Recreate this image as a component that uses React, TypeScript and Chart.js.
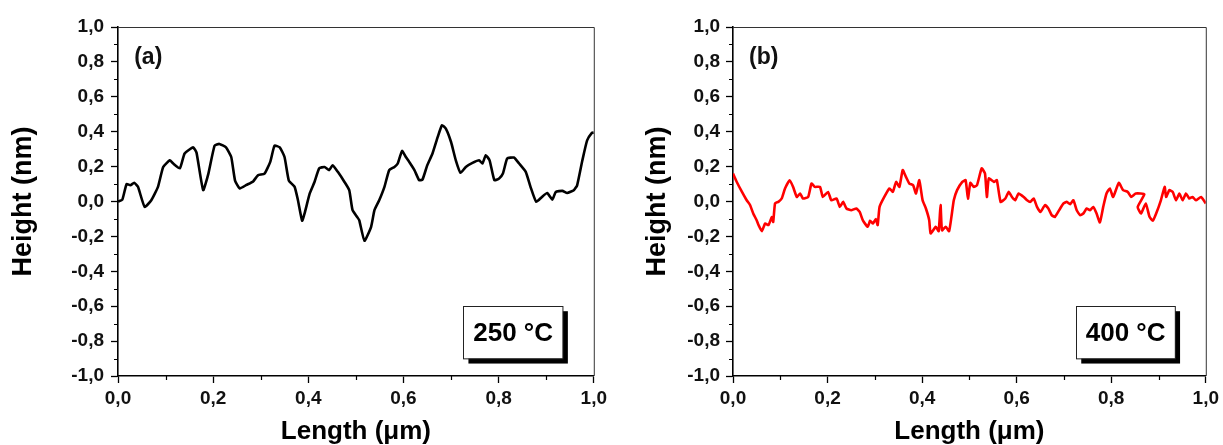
import React, { useEffect, useRef } from 'react';
import { Chart, registerables } from 'chart.js';

Chart.register(...registerables);

// ---------- data ----------
const xTickValues = [0, 0.2, 0.4, 0.6, 0.8, 1.0];
const xMinorValues = [0.1, 0.3, 0.5, 0.7, 0.9];
const yTickValues = [-1.0, -0.8, -0.6, -0.4, -0.2, 0, 0.2, 0.4, 0.6, 0.8, 1.0];
const yMinorValues = [-0.9, -0.7, -0.5, -0.3, -0.1, 0.1, 0.3, 0.5, 0.7, 0.9];

const xTitle = 'Length (μm)';
const yTitle = 'Height (nm)';
const panelLabels = ['(a)', '(b)'];
const tempLabels = ['250 °C', '400 °C'];

const lengthA = [
  0, 0.009, 0.018, 0.026, 0.034, 0.042, 0.056, 0.07, 0.084, 0.095, 0.109, 0.115, 0.13, 0.14,
  0.158, 0.165, 0.179, 0.19, 0.203, 0.213, 0.227, 0.238, 0.246, 0.256, 0.27, 0.284, 0.294,
  0.308, 0.32, 0.329, 0.34, 0.35, 0.359, 0.371, 0.378, 0.387, 0.392, 0.403, 0.413, 0.423,
  0.434, 0.444, 0.451, 0.462, 0.476, 0.486, 0.493, 0.503, 0.507, 0.518, 0.532, 0.539, 0.549,
  0.56, 0.57, 0.581, 0.588, 0.597, 0.605, 0.612, 0.623, 0.633, 0.64, 0.65, 0.661, 0.672,
  0.681, 0.689, 0.7, 0.71, 0.72, 0.731, 0.745, 0.759, 0.766, 0.773, 0.781, 0.791, 0.801,
  0.809, 0.818, 0.832, 0.843, 0.857, 0.867, 0.879, 0.891, 0.902, 0.913, 0.92, 0.934, 0.944,
  0.958, 0.965, 0.976, 0.986, 0.996, 1.0,
];
const heightA = [
  0.0, 0.01, 0.1, 0.093, 0.107, 0.084, -0.031, 0.007, 0.084, 0.198, 0.236, 0.22, 0.19, 0.275,
  0.31, 0.28, 0.065, 0.16, 0.32, 0.33, 0.31, 0.255, 0.12, 0.075, 0.095, 0.115, 0.15,
  0.16, 0.227, 0.32, 0.31, 0.255, 0.12, 0.085, 0.01, -0.11, -0.07, 0.046, 0.112, 0.19,
  0.198, 0.18, 0.208, 0.17, 0.112, 0.065, -0.05, -0.09, -0.107, -0.225, -0.145, -0.05, 0.007,
  0.084, 0.18, 0.198, 0.218, 0.29, 0.255, 0.227, 0.18, 0.122, 0.126, 0.208, 0.275, 0.37,
  0.437, 0.418, 0.341, 0.236, 0.164, 0.198, 0.221, 0.236, 0.218, 0.265, 0.236, 0.122, 0.132,
  0.16, 0.246, 0.252, 0.218, 0.17, 0.084, -0.002, 0.026, 0.049, 0.011, 0.055, 0.061, 0.049,
  0.065, 0.093, 0.236, 0.35, 0.393, 0.395,
];

const lengthB = [
  0, 0.008, 0.019, 0.029, 0.036, 0.043, 0.05, 0.054, 0.061, 0.068, 0.075, 0.082, 0.085, 0.089,
  0.096, 0.103, 0.11, 0.12, 0.127, 0.135, 0.142, 0.148, 0.159, 0.166, 0.173, 0.184, 0.19,
  0.201, 0.208, 0.219, 0.226, 0.233, 0.24, 0.25, 0.261, 0.268, 0.275, 0.285, 0.29, 0.296,
  0.302, 0.306, 0.31, 0.32, 0.331, 0.338, 0.345, 0.352, 0.359, 0.366, 0.373, 0.381, 0.387,
  0.394, 0.401, 0.408, 0.415, 0.418, 0.429, 0.435, 0.439, 0.442, 0.45, 0.457, 0.462, 0.467,
  0.474, 0.485, 0.492, 0.497, 0.502, 0.509, 0.516, 0.526, 0.533, 0.537, 0.541, 0.552, 0.558,
  0.566, 0.576, 0.583, 0.59, 0.597, 0.604, 0.615, 0.622, 0.629, 0.636, 0.643, 0.65, 0.66,
  0.667, 0.674, 0.681, 0.692, 0.699, 0.706, 0.713, 0.72, 0.727, 0.734, 0.741, 0.748, 0.755,
  0.762, 0.769, 0.776, 0.783, 0.79, 0.797, 0.804, 0.816, 0.825, 0.835, 0.842, 0.852, 0.87,
  0.856, 0.863, 0.873, 0.881, 0.888, 0.895, 0.905, 0.913, 0.916, 0.923, 0.93, 0.937, 0.944,
  0.951, 0.958, 0.965, 0.972, 0.979, 0.99, 1.0,
];
const heightB = [
  0.16, 0.112, 0.055, 0.007, -0.02, -0.07, -0.107, -0.135, -0.17, -0.126, -0.135, -0.09, -0.117, -0.01,
  -0.002, 0.017, 0.075, 0.122, 0.084, 0.026, 0.046, 0.017, 0.026, 0.103, 0.084, 0.084, 0.026,
  0.055, 0.007, 0.017, -0.031, -0.002, -0.04, -0.05, -0.04, -0.06, -0.11, -0.145, -0.11, -0.126,
  -0.1, -0.135, -0.031, 0.026, 0.075, 0.055, 0.112, 0.084, 0.18, 0.14, 0.103, 0.093, 0.046,
  0.122, 0.007, -0.04, -0.107, -0.183, -0.145, -0.17, -0.02, -0.165, -0.145, -0.17, -0.088, 0.007,
  0.065, 0.112, 0.122, 0.017, 0.107, 0.084, 0.093, 0.19, 0.16, 0.026, 0.132, 0.112, 0.122,
  -0.002, 0.017, 0.055, 0.026, 0.007, 0.046, 0.026, 0.007, -0.002, 0.017, -0.031, -0.06, -0.021,
  -0.04, -0.078, -0.088, -0.04, -0.011, -0.002, -0.015, 0.007, -0.05, -0.078, -0.069, -0.04, -0.05,
  -0.031, -0.069, -0.12, -0.031, 0.046, 0.075, 0.026, 0.107, 0.065, 0.055, 0.026, 0.046, 0.042,
  -0.031, -0.069, -0.011, -0.088, -0.11, -0.069, 0.007, 0.084, 0.026, 0.065, 0.055, 0.007, 0.046,
  0.007, 0.046, 0.017, 0.026, 0.007, 0.026, -0.011,
];

// ---------- styling ----------
const FONT = '"Liberation Sans", Arial, Helvetica, sans-serif';
const fmt = (v: number) => (Math.abs(v) < 1e-9 ? 0 : v).toFixed(1).replace('.', ',');

const decorPlugin = {
  id: 'decor',
  afterDraw(chart: any, _args: any, opts: any) {
    const { ctx, chartArea } = chart;
    const { left, right, top, bottom } = chartArea;
    const w = right - left;
    const h = bottom - top;
    const xs = chart.scales.x;
    const ys = chart.scales.y;
    ctx.save();
    // top and right frame
    ctx.strokeStyle = '#333';
    ctx.lineWidth = 1;
    ctx.beginPath();
    ctx.moveTo(left, top + 0.5);
    ctx.lineTo(right + 0.5, top + 0.5);
    ctx.lineTo(right + 0.5, bottom);
    ctx.stroke();
    // minor ticks
    ctx.strokeStyle = '#000';
    ctx.lineWidth = 1.2;
    ctx.beginPath();
    xMinorValues.forEach((v) => {
      const px = Math.round(xs.getPixelForValue(v)) + 0.5;
      ctx.moveTo(px, bottom);
      ctx.lineTo(px, bottom + 4);
    });
    yMinorValues.forEach((v) => {
      const py = Math.round(ys.getPixelForValue(v)) + 0.5;
      ctx.moveTo(left, py);
      ctx.lineTo(left - 4, py);
    });
    ctx.stroke();
    // panel label
    ctx.fillStyle = '#111';
    ctx.font = `bold 23px ${FONT}`;
    ctx.textAlign = 'left';
    ctx.textBaseline = 'middle';
    ctx.fillText(opts.panel, left + w * 0.034, top + h * 0.088);
    // temperature box with shadow
    const bx0 = left + w * 0.726;
    const bx1 = left + w * 0.935;
    const by0 = top + h * 0.8;
    const by1 = top + h * 0.95;
    ctx.fillStyle = '#000';
    ctx.fillRect(bx0 + 5, by0 + 5, bx1 - bx0, by1 - by0);
    ctx.fillStyle = '#fff';
    ctx.fillRect(bx0, by0, bx1 - bx0, by1 - by0);
    ctx.strokeStyle = '#222';
    ctx.lineWidth = 1;
    ctx.strokeRect(Math.round(bx0) + 0.5, Math.round(by0) + 0.5, bx1 - bx0, by1 - by0);
    ctx.fillStyle = '#000';
    ctx.font = `bold 26px ${FONT}`;
    ctx.textAlign = 'center';
    ctx.textBaseline = 'middle';
    ctx.fillText(opts.temp, (bx0 + bx1) / 2, (by0 + by1) / 2 + 1);
    ctx.restore();
  },
};

function makeConfig(
  xs: number[],
  ys: number[],
  color: string,
  panel: string,
  temp: string,
  yWidth: number,
  padRight: number,
  yTitlePad: number,
  yTickPad: number
) {
  return {
    type: 'line',
    data: {
      datasets: [
        {
          data: xs.map((x, i) => ({ x, y: ys[i] })),
          borderColor: color,
          borderWidth: 2.6,
          pointRadius: 0,
          tension: 0.15,
          fill: false,
        },
      ],
    },
    options: {
      animation: false,
      responsive: false,
      maintainAspectRatio: false,
      layout: { padding: { left: 0, right: padRight, top: 27, bottom: 0 } },
      plugins: {
        legend: { display: false },
        tooltip: { enabled: false },
        decor: { panel, temp },
      },
      scales: {
        x: {
          type: 'linear',
          min: 0,
          max: 1,
          afterBuildTicks: (s: any) => {
            s.ticks = xTickValues.map((v) => ({ value: v }));
          },
          afterFit: (s: any) => {
            s.height = 69;
          },
          ticks: {
            callback: (v: any) => fmt(Number(v)),
            font: { family: FONT, size: 19, weight: 'bold' },
            color: '#111',
            padding: 4,
            maxRotation: 0,
            autoSkip: false,
          },
          grid: { drawOnChartArea: false, drawTicks: true, tickLength: 7, tickColor: '#000', tickWidth: 1.3 },
          border: { display: true, color: '#000', width: 1.6 },
          title: {
            display: true,
            text: xTitle,
            color: '#000',
            font: { family: FONT, size: 26, weight: 'bold', lineHeight: 1 },
            padding: { top: 0, bottom: 0 },
          },
        },
        y: {
          type: 'linear',
          min: -1,
          max: 1,
          afterBuildTicks: (s: any) => {
            s.ticks = yTickValues.map((v) => ({ value: v }));
          },
          afterFit: (s: any) => {
            s.width = yWidth;
          },
          ticks: {
            callback: (v: any) => fmt(Number(v)),
            font: { family: FONT, size: 19, weight: 'bold' },
            color: '#111',
            padding: yTickPad,
            autoSkip: false,
          },
          grid: { drawOnChartArea: false, drawTicks: true, tickLength: 7, tickColor: '#000', tickWidth: 1.3 },
          border: { display: true, color: '#000', width: 1.6 },
          title: {
            display: true,
            text: yTitle,
            color: '#000',
            font: { family: FONT, size: 27, weight: 'bold', lineHeight: 1 },
            padding: { top: yTitlePad, bottom: 0 },
          },
        },
      },
    },
    plugins: [decorPlugin],
  };
}

export default function App() {
  const refA = useRef<HTMLCanvasElement>(null);
  const refB = useRef<HTMLCanvasElement>(null);

  useEffect(() => {
    const a = new Chart(
      refA.current as HTMLCanvasElement,
      makeConfig(lengthA, heightA, '#000', panelLabels[0], tempLabels[0], 118, 16, 10, 7) as any
    );
    const b = new Chart(
      refB.current as HTMLCanvasElement,
      makeConfig(lengthB, heightB, '#ff0000', panelLabels[1], tempLabels[1], 122, 15, 33, 6) as any
    );
    return () => {
      a.destroy();
      b.destroy();
    };
  }, []);

  return (
    <div style={{ position: 'fixed', left: 0, top: 0, width: 1223, height: 445, background: '#fff' }}>
      <canvas ref={refA} width={611} height={445} style={{ position: 'absolute', left: 0, top: 0, width: 611, height: 445 }} />
      <canvas ref={refB} width={612} height={445} style={{ position: 'absolute', left: 611, top: 0, width: 612, height: 445 }} />
    </div>
  );
}
